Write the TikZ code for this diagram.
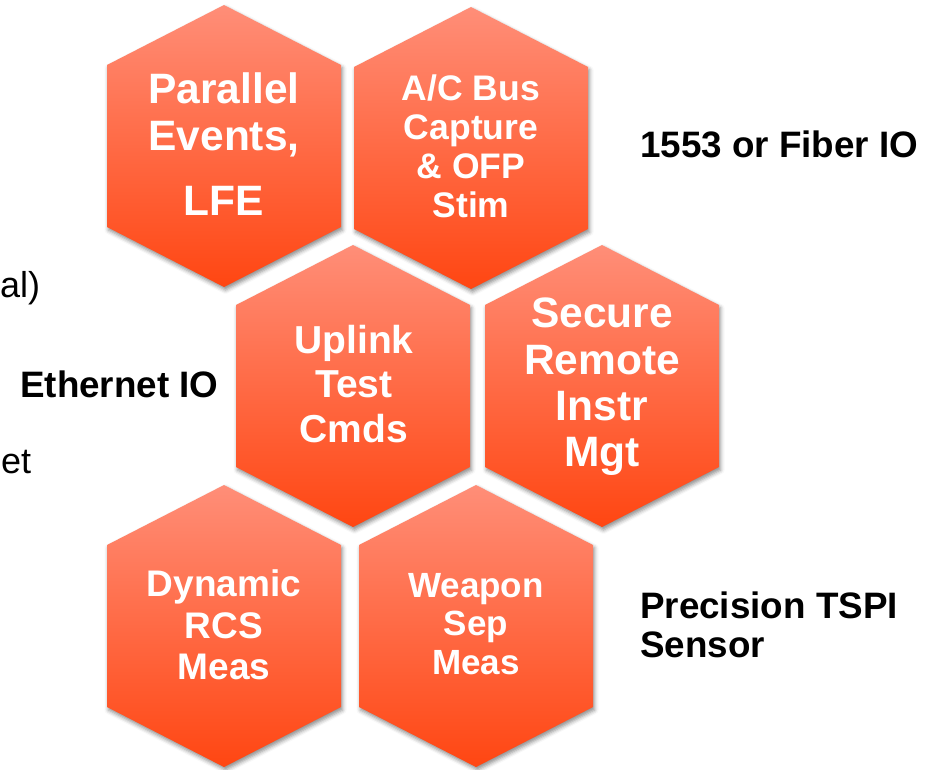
\documentclass[tikz,border=0pt]{standalone}
\usepackage{fontspec}
\setmainfont{Liberation Sans}
\usetikzlibrary{shadows.blur}
\definecolor{hexlight}{RGB}{255,142,120}
\definecolor{hexdark}{RGB}{255,70,18}
\begin{document}
\begin{tikzpicture}[x=1pt,y=-1pt,
  hexcell/.style={top color=hexlight, bottom color=hexdark, blur shadow={shadow xshift=1.5pt, shadow yshift=-3pt, shadow blur radius=4pt, shadow opacity=45}},
  hexlabel/.style 2 args={text=white, align=center, inner sep=0pt, font=\fontsize{#1}{#2}\selectfont\bfseries},
  sidelabel/.style={text=black, align=left, inner sep=0pt, font=\fontsize{36.8}{39}\selectfont\bfseries},
  cutlabel/.style={text=black, inner sep=0pt, font=\fontsize{36}{39}\selectfont}]
\useasboundingbox (0,0) rectangle (925,769);
\foreach \cx/\cy in {224/146, 471/148, 353/386, 602/386, 224/626, 476/626}
  \path[hexcell] (\cx,\cy-141) -- ++(117,60) -- ++(0,162) -- ++(-117,60) -- ++(-117,-60) -- ++(0,-162) -- cycle;
\node[hexlabel={42.5}{47}] (parallel) at (224,144) {Parallel\\Events,\\[18pt]LFE};
\node[hexlabel={35.5}{39}] (acbus) at (471,146) {A/C Bus\\Capture\\\& OFP\\Stim};
\node[hexlabel={39}{44.5}] (uplink) at (354,384) {Uplink\\Test\\Cmds};
\node[hexlabel={42.5}{46.3}] (secure) at (602,387) {Secure\\Remote\\Instr\\Mgt};
\node[hexlabel={37}{41.5}] (dynamic) at (224,625) {Dynamic\\RCS\\Meas};
\node[hexlabel={35}{38.5}] (weapon) at (476,624) {Weapon\\Sep\\Meas};
\node[sidelabel, anchor=base west] (fiber) at (640,157) {1553 or Fiber IO};
\node[sidelabel, anchor=base west] (ethernet) at (20,397) {Ethernet IO};
\node[sidelabel, anchor=north west] (tspi) at (640,592) {Precision TSPI\\Sensor};
\node[cutlabel, anchor=base west] (cutal) at (0,297) {al)};
\node[cutlabel, anchor=base west] (cutet) at (1,473) {et};
\end{tikzpicture}
\end{document}
